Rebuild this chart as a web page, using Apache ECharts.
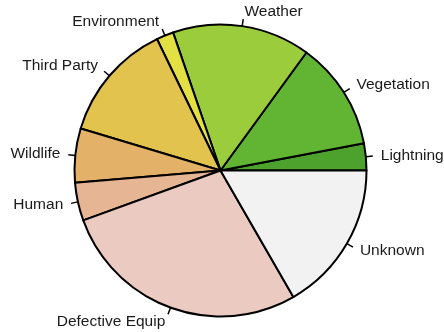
<!DOCTYPE html>
<html>
<head>
<meta charset="utf-8">
<script src="https://cdn.jsdelivr.net/npm/echarts@6/dist/echarts.min.js"></script>
<style>html,body{margin:0;padding:0;background:#fff;}#c{width:444px;height:332px;}</style>
</head>
<body>
<div id="c"></div>
<script>
const categories = ["Lightning","Vegetation","Weather","Environment","Third Party","Wildlife","Human","Defective Equip","Unknown"];
const values = [3.0, 12.0, 15.3, 1.9, 13.2, 6.0, 4.2, 27.8, 16.7];
const colors = ["#4CA22C","#62B532","#9BCC3B","#E3E044","#E2C34E","#E3B167","#E5B594","#EBCAC2","#F2F2F2"];

const R = 146;
const chart = echarts.init(document.getElementById('c'), null, {renderer:'canvas'});
chart.setOption({
  animation: false,
  backgroundColor: '#ffffff',
  series: [{
    type: 'pie',
    center: [220.5, 170.5],
    radius: R,
    startAngle: 0,
    clockwise: false,
    avoidLabelOverlap: false,
    z: 2,
    itemStyle: { borderColor: '#000', borderWidth: 2 },
    label: { show: true, position: 'outside', formatter: ' ', fontSize: 1, distanceToLabelLine: 0 },
    labelLine: { show: true, length: 7, length2: 0, lineStyle: { color: '#000', width: 1.5 } },
    labelLayout: { hideOverlap: false },
    emphasis: { disabled: true },
    data: categories.map((n,i)=>({name:n, value:values[i], itemStyle:{color:colors[i]}}))
  }, {
    type: 'pie',
    center: [220.5, 170.5],
    radius: R,
    startAngle: 0,
    clockwise: false,
    avoidLabelOverlap: false,
    silent: true,
    z: 1,
    itemStyle: { color: 'rgba(0,0,0,0)', borderWidth: 0 },
    label: {
      show: true, position: 'outside', color: '#1a1a1a',
      fontFamily: 'Liberation Sans, Arial, sans-serif', fontSize: 15.5,
      distanceToLabelLine: 0
    },
    labelLine: { show: false, length: 15, length2: 0 },
    labelLayout: { hideOverlap: false },
    emphasis: { disabled: true },
    data: categories.map((n,i)=>({name:n, value:values[i]}))
  }]
});
</script>
</body>
</html>
